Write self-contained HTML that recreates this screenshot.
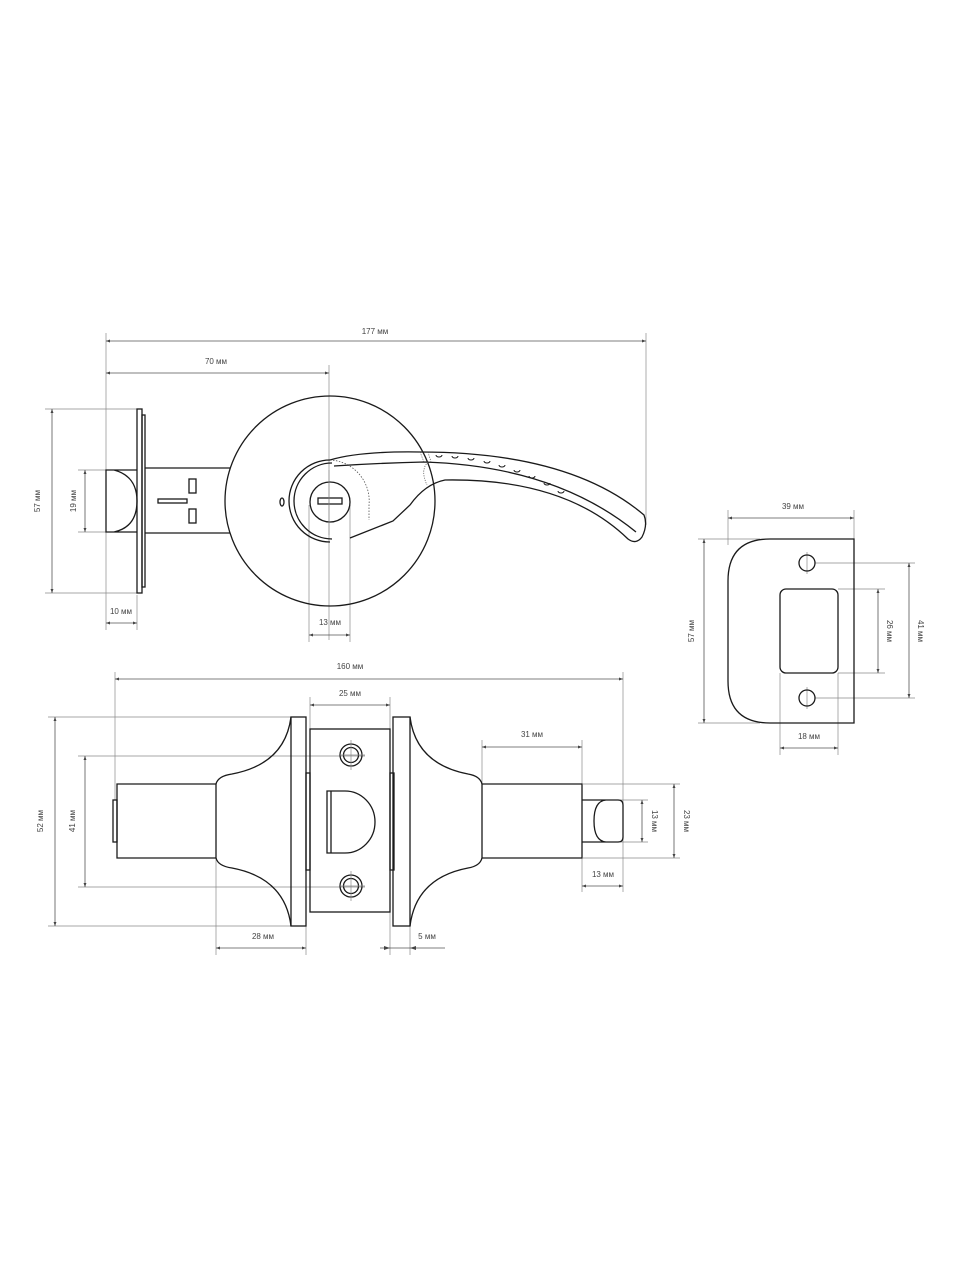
<!DOCTYPE html>
<html><head><meta charset="utf-8"><style>
html,body{margin:0;padding:0;background:#fff;}
svg{display:block;}
text{font-family:"Liberation Sans",sans-serif;font-size:8px;fill:#444;text-anchor:middle;}
.o{fill:none;stroke:#1a1a1a;stroke-width:1.3;}
.d{fill:none;stroke:#8a8a8a;stroke-width:0.7;}
.a{fill:none;stroke:#555;stroke-width:0.8;marker-start:url(#ar);marker-end:url(#ar);}
</style></head><body>
<svg width="960" height="1280" viewBox="0 0 960 1280" xmlns="http://www.w3.org/2000/svg">
<defs><marker id="ar" viewBox="0 0 6 6" refX="6" refY="3" markerWidth="5" markerHeight="5" orient="auto-start-reverse"><path d="M0,0.8 L6,3 L0,5.2 Z" fill="#444"/></marker></defs>

<!-- ===== TOP VIEW ===== -->
<!-- extension lines -->
<path class="d" d="M106,333V630 M646,333V525 M329,365V640 M137,595V630 M309,505V642 M350,505V642 M45,409H140 M45,593H140 M78,470H108 M78,532H108"/>
<line class="a" x1="106" y1="341" x2="646" y2="341"/><text x="375" y="334">177 мм</text>
<line class="a" x1="106" y1="373" x2="329" y2="373"/><text x="216" y="364">70 мм</text>
<line class="a" x1="52" y1="409" x2="52" y2="593"/><text transform="translate(40,501) rotate(-90)">57 мм</text>
<line class="a" x1="85" y1="470" x2="85" y2="532"/><text transform="translate(76,501) rotate(-90)">19 мм</text>
<line class="a" x1="106" y1="623" x2="137" y2="623"/><text x="121" y="614">10 мм</text>
<line class="a" x1="309" y1="635" x2="350" y2="635"/><text x="330" y="625">13 мм</text>

<!-- latch -->
<rect class="o" x="137" y="409" width="5" height="184"/>
<rect class="o" x="142" y="415" width="3" height="172"/>
<path class="o" d="M137,470H106V532H137 M114,470 Q137,476 137,501 Q137,527 114,532"/>
<path class="o" d="M145,468H230 M145,533H230"/>
<rect class="o" x="158" y="499" width="29" height="4"/>
<rect class="o" x="189" y="479" width="7" height="14"/>
<rect class="o" x="189" y="509" width="7" height="14"/>
<!-- rosette -->
<circle class="o" cx="330" cy="501" r="105" fill="#fff"/>
<ellipse class="o" cx="282" cy="502" rx="2" ry="4"/>
<!-- hub -->
<path class="o" d="M330,460 A41,41 0 0 0 330,542"/>
<path class="o" d="M332,463 A38,38 0 0 0 332,539"/>
<path d="M330,460 A41,41 0 0 1 369,505 L369,520" fill="none" stroke="#555" stroke-width="0.8" stroke-dasharray="1.5,1.5"/>
<!-- lever -->
<path class="o" d="M330,460 Q360,451 420,452 Q570,452 644,515 Q648,525 642,537 Q636,545 628,539 Q565,478 445,480 Q425,484 410,505 L393,521 L350,538"/>
<path class="o" d="M334,466 Q380,463 424,462 Q555,466 636,532" stroke-width="1"/>
<path d="M420,452 L424,462 M428,452 L431,462 M428,462 Q420,470 427,485" fill="none" stroke="#555" stroke-width="0.7" stroke-dasharray="1.2,1.2"/>
<g fill="none" stroke="#1a1a1a" stroke-width="1">
<path d="M436,455 a3,2 0 0 0 6,0"/><path d="M452,456 a3,2 0 0 0 6,0"/><path d="M468,458 a3,2 0 0 0 6,0"/><path d="M484,461 a3,2 0 0 0 6,0"/><path d="M499,465 a3,2 0 0 0 6,0"/><path d="M514,470 a3,2 0 0 0 6,0"/><path d="M529,476 a3,2 0 0 0 6,0"/><path d="M544,483 a3,2 0 0 0 6,0"/><path d="M558,491 a3,2 0 0 0 6,0"/>
</g>
<!-- key cylinder -->
<circle class="o" cx="330" cy="502" r="20" fill="#fff"/>
<rect class="o" x="318" y="498" width="24" height="6"/>
<path class="d" d="M329,470V535"/>

<!-- ===== STRIKE PLATE ===== -->
<path class="d" d="M728,510V545 M854,510V545 M698,539H760 M698,723H760 M815,563H915 M815,698H915 M838,589H885 M838,673H885 M780,673V755 M838,673V755 M807,552V574 M807,687V709"/>
<line class="a" x1="728" y1="518" x2="854" y2="518"/><text x="793" y="509">39 мм</text>
<line class="a" x1="704" y1="539" x2="704" y2="723"/><text transform="translate(694,631) rotate(-90)">57 мм</text>
<line class="a" x1="878" y1="589" x2="878" y2="673"/><text transform="translate(887,631) rotate(90)">26 мм</text>
<line class="a" x1="909" y1="563" x2="909" y2="698"/><text transform="translate(918,631) rotate(90)">41 мм</text>
<line class="a" x1="780" y1="748" x2="838" y2="748"/><text x="809" y="739">18 мм</text>
<path class="o" d="M770,539H854V723H770 Q728,723 728,681V581 Q728,539 770,539 Z"/>
<circle class="o" cx="807" cy="563" r="8"/>
<circle class="o" cx="807" cy="698" r="8"/>
<rect class="o" x="780" y="589" width="58" height="84" rx="6"/>

<!-- ===== SIDE VIEW ===== -->
<path class="d" d="M115,672V800 M623,672V892 M310,697V729 M390,697V729 M48,717H292 M48,926H292 M78,756H365 M78,887H365 M216,858V955 M306,926V955 M390,912V955 M410,926V955 M482,740V784 M582,740V892 M583,784H680 M583,858H680 M620,800H648 M620,842H648"/>
<line class="a" x1="115" y1="679" x2="623" y2="679"/><text x="350" y="669">160 мм</text>
<line class="a" x1="310" y1="705" x2="390" y2="705"/><text x="350" y="696">25 мм</text>
<line class="a" x1="55" y1="717" x2="55" y2="926"/><text transform="translate(43,821) rotate(-90)">52 мм</text>
<line class="a" x1="85" y1="756" x2="85" y2="887"/><text transform="translate(75,821) rotate(-90)">41 мм</text>
<line class="a" x1="216" y1="948" x2="306" y2="948"/><text x="263" y="939">28 мм</text>
<line stroke="#555" stroke-width="0.8" x1="380" y1="948" x2="445" y2="948"/>
<path d="M390,948 l-6,-2 v4z M410,948 l6,-2 v4z" fill="#444"/><text x="427" y="939">5 мм</text>
<line class="a" x1="482" y1="747" x2="582" y2="747"/><text x="532" y="737">31 мм</text>
<line class="a" x1="674" y1="784" x2="674" y2="858"/><text transform="translate(684,821) rotate(90)">23 мм</text>
<line class="a" x1="642" y1="800" x2="642" y2="842"/><text transform="translate(652,821) rotate(90)">13 мм</text>
<line class="a" x1="582" y1="886" x2="623" y2="886"/><text x="603" y="877">13 мм</text>

<!-- left knob -->
<rect class="o" x="113" y="800" width="4" height="42"/>
<path class="o" d="M117,784H216V858H117Z"/>
<path class="o" d="M216,784 Q218,776 232,774 Q285,764 291,717 M216,858 Q218,866 232,868 Q285,878 291,926"/>
<rect class="o" x="291" y="717" width="15" height="209"/>
<rect class="o" x="306" y="773" width="4" height="97"/>
<!-- strike/latch face -->
<rect class="o" x="310" y="729" width="80" height="183"/>
<circle class="o" cx="351" cy="755" r="11"/><circle class="o" cx="351" cy="755" r="7.5"/>
<circle class="o" cx="351" cy="886" r="11"/><circle class="o" cx="351" cy="886" r="7.5"/>
<path class="d" d="M351,740V770 M340,755H365 M351,871V901 M340,886H365"/>
<path class="o" d="M327,791 H345 A30,31 0 0 1 345,853 H327 Z M331,791V853"/>
<rect class="o" x="390" y="773" width="4" height="97"/>
<rect class="o" x="393" y="717" width="17" height="209"/>
<!-- right knob -->
<path class="o" d="M410,717 Q416,764 468,774 Q480,776 482,784 M410,926 Q416,878 468,868 Q480,866 482,858"/>
<path class="o" d="M482,784H582V858H482Z"/>
<path class="o" d="M582,800H618 Q623,800 623,805V837 Q623,842 618,842H582 M606,800 Q594,801 594,821 Q594,841 606,842"/>
</svg>
</body></html>
